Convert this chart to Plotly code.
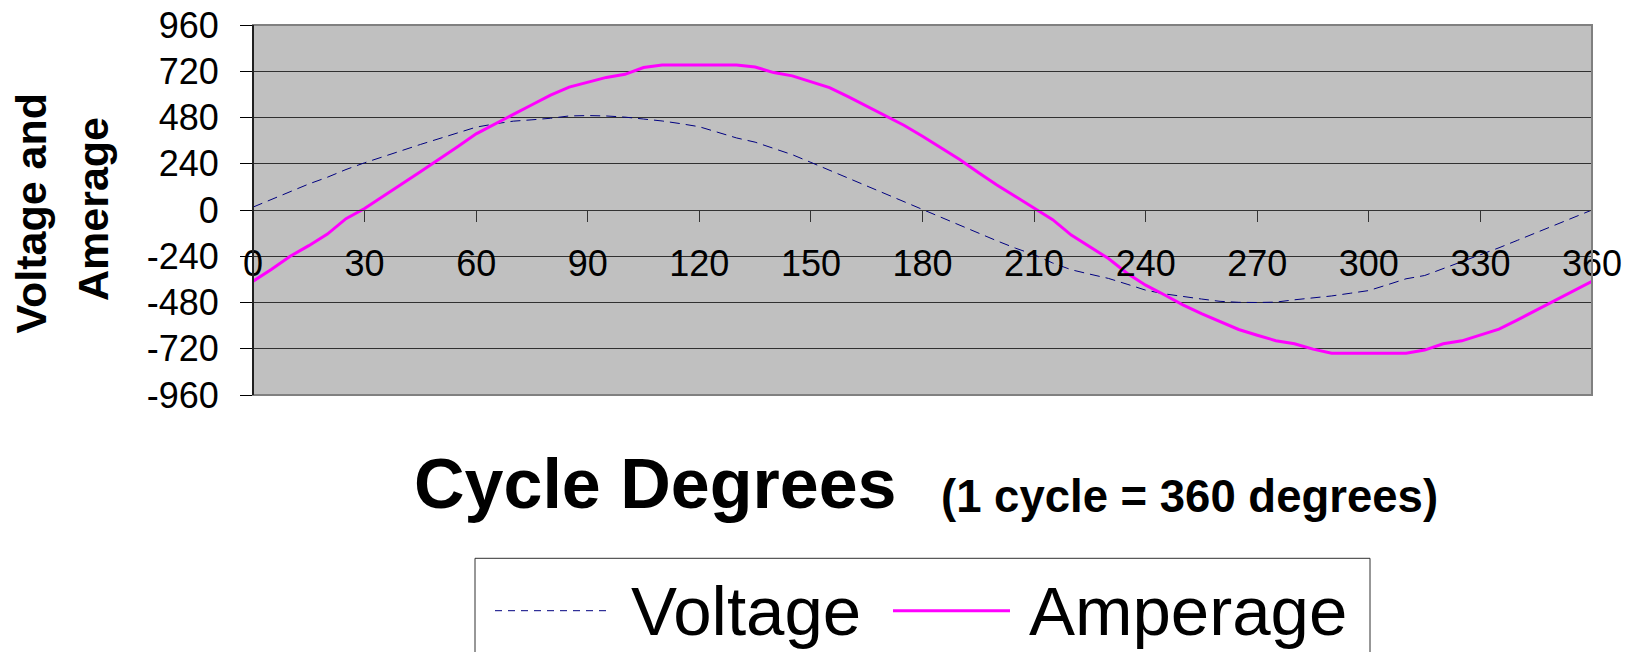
import plotly.graph_objects as go

# ---- data ----
degrees = list(range(0, 361, 5))
voltage = [15, 55, 95, 135, 170, 210, 245, 278, 309, 340, 370, 400, 430, 447, 461, 468,
           476, 488, 490, 488, 482, 472, 462, 448, 432, 403, 374, 352, 320, 287, 247, 206,
           165, 124, 82, 41, 0, -40, -80, -120, -160, -198, -232, -275, -310, -333, -355,
           -385, -416, -435, -450, -462, -474, -479, -480, -478, -466, -456, -446, -432,
           -418, -388, -357, -340, -305, -270, -234, -196, -157, -118, -79, -40, 0]
amperage = [-370, -308, -240, -185, -125, -45, 8, 73, 135, 198, 262, 328, 395, 447, 496,
            546, 596, 638, 661, 688, 704, 739, 752, 752, 752, 752, 752, 742, 713, 696, 664,
            635, 588, 540, 492, 440, 383, 322, 262, 195, 130, 70, 8, -50, -130, -190, -252,
            -328, -390, -440, -492, -538, -580, -620, -650, -678, -694, -722, -743, -743,
            -743, -743, -743, -727, -694, -679, -650, -618, -570, -520, -472, -420, -370]

x_ticks = list(range(0, 361, 30))
y_ticks = [-960, -720, -480, -240, 0, 240, 480, 720, 960]
y_labels = ["-960", "-720", "-480", "-240", "0", "240", "480", "720", "960"]

FONT = "Arial, 'Liberation Sans', sans-serif"

fig = go.Figure()
fig.add_trace(go.Scatter(x=degrees, y=voltage, mode="lines", name="Voltage",
                         line=dict(color="#000080", width=1, dash="10px,6px")))
fig.add_trace(go.Scatter(x=degrees, y=amperage, mode="lines", name="Amperage",
                         line=dict(color="#FF00FF", width=3)))

L, R, T, B = 253, 1592, 25, 395
W, H = R - L, B - T


def xp(px):
    return (px - L) / W


def yp(py):
    return (B - py) / H


fig.update_layout(
    width=1641, height=652,
    autosize=False,
    margin=dict(l=L, r=1641 - R, t=T, b=652 - B, pad=0, autoexpand=False),
    paper_bgcolor="white", plot_bgcolor="#C0C0C0",
    showlegend=False,
    font=dict(family=FONT, color="black"),
    xaxis=dict(range=[0, 360], tickvals=x_ticks, showgrid=False, zeroline=False,
               anchor="free", position=0.5, showline=True, linecolor="#333333",
               linewidth=1, ticks="outside", ticklen=11, tickcolor="#333333",
               tickfont=dict(size=36, family=FONT, color="black"),
               ticklabelstandoff=11, automargin=False),
    yaxis=dict(range=[-960, 960], tickvals=y_ticks, ticktext=y_labels,
               showgrid=True, gridcolor="#303030", gridwidth=1, zeroline=False,
               showline=True, linecolor="black", linewidth=1,
               ticks="outside", ticklen=12, tickcolor="black",
               tickfont=dict(size=36, family=FONT, color="black"),
               ticklabelstandoff=14, automargin=False),
)

# plot-area frame
fig.add_shape(type="rect", xref="paper", yref="paper", x0=0, x1=1, y0=0, y1=1,
              line=dict(color="#808080", width=2), layer="above")
fig.add_shape(type="line", xref="paper", yref="paper", x0=0, x1=0, y0=0, y1=1,
              line=dict(color="black", width=1.5), layer="above")

# y-axis title (two lines)
fig.add_annotation(text="<b>Voltage and</b>", xref="paper", yref="paper",
                   x=xp(30), y=yp(213.5), xanchor="center", yanchor="middle",
                   textangle=-90, showarrow=False, font=dict(size=43, family=FONT))
fig.add_annotation(text="<b>Amerage</b>", xref="paper", yref="paper",
                   x=xp(93), y=yp(209), xanchor="center", yanchor="middle",
                   textangle=-90, showarrow=False, font=dict(size=43, family=FONT))

# x-axis title
fig.add_annotation(text="<b>Cycle Degrees</b>", xref="paper", yref="paper",
                   x=xp(655.7), y=yp(483.5), xanchor="center", yanchor="middle",
                   showarrow=False, font=dict(size=70, family=FONT))
fig.add_annotation(text="<b>(1 cycle = 360 degrees)</b>", xref="paper", yref="paper",
                   x=xp(939), y=yp(496), xanchor="left", yanchor="middle",
                   showarrow=False, font=dict(size=45.5, family=FONT))

# legend (drawn manually to match the wide sample lines)
fig.add_shape(type="rect", xref="paper", yref="paper", x0=xp(475), x1=xp(1370),
              y0=yp(680), y1=yp(558.3), line=dict(color="#303030", width=1),
              fillcolor="white", layer="above")
fig.add_shape(type="line", xref="paper", yref="paper", x0=xp(495), x1=xp(612),
              y0=yp(610.7), y1=yp(610.7),
              line=dict(color="#000080", width=1, dash="7px,6px"))
fig.add_shape(type="line", xref="paper", yref="paper", x0=xp(893), x1=xp(1010),
              y0=yp(610.7), y1=yp(610.7), line=dict(color="#FF00FF", width=3))
fig.add_annotation(text="Voltage", xref="paper", yref="paper", x=xp(629), y=yp(611),
                   xanchor="left", yanchor="middle", showarrow=False,
                   font=dict(size=69, family=FONT))
fig.add_annotation(text="Amperage", xref="paper", yref="paper", x=xp(1027), y=yp(611),
                   xanchor="left", yanchor="middle", showarrow=False,
                   font=dict(size=69, family=FONT))

fig.write_html("out.html")
